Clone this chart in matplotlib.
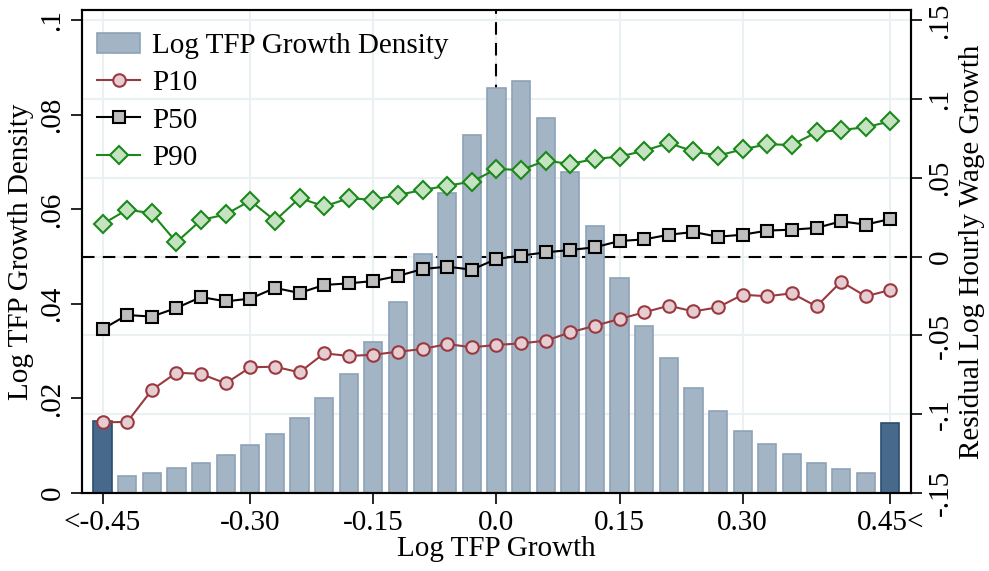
import numpy as np
import matplotlib
matplotlib.use("Agg")
import matplotlib.pyplot as plt
from matplotlib.patches import Patch
from matplotlib.transforms import blended_transform_factory

plt.rcParams['font.family'] = ['Liberation Serif', 'DejaVu Serif']
plt.rcParams['font.size'] = 21

# bin centres (outer bins are the open-ended "<-0.45" and "0.45<" bins)
bins = [-0.48, -0.45, -0.42, -0.39, -0.36, -0.33, -0.30, -0.27, -0.24, -0.21, -0.18,
        -0.15, -0.12, -0.09, -0.06, -0.03, 0.00, 0.03, 0.06, 0.09, 0.12, 0.15,
        0.18, 0.21, 0.24, 0.27, 0.30, 0.33, 0.36, 0.39, 0.42, 0.45, 0.48]

density = [0.0153, 0.0037, 0.0042, 0.0052, 0.0063, 0.0080, 0.0101, 0.0124, 0.0158,
           0.0200, 0.0252, 0.0319, 0.0405, 0.0505, 0.0634, 0.0758, 0.0857, 0.0871,
           0.0793, 0.0679, 0.0565, 0.0454, 0.0353, 0.0285, 0.0222, 0.0173, 0.0131,
           0.0103, 0.0082, 0.0063, 0.0050, 0.0042, 0.0148]

p10 = [-0.1051, -0.1049, -0.0846, -0.0736, -0.0744, -0.0804, -0.0702, -0.0698, -0.0734,
       -0.0613, -0.0630, -0.0622, -0.0603, -0.0586, -0.0554, -0.0575, -0.0560, -0.0550,
       -0.0533, -0.0480, -0.0438, -0.0395, -0.0353, -0.0311, -0.0347, -0.0321, -0.0241,
       -0.0251, -0.0232, -0.0315, -0.0158, -0.0251, -0.0211]

p50 = [-0.0459, -0.0370, -0.0380, -0.0325, -0.0256, -0.0283, -0.0266, -0.0198, -0.0230,
       -0.0179, -0.0169, -0.0154, -0.0122, -0.0078, -0.0063, -0.0082, -0.0014, 0.0007,
       0.0028, 0.0043, 0.0060, 0.0100, 0.0110, 0.0140, 0.0157, 0.0127, 0.0140,
       0.0166, 0.0172, 0.0183, 0.0225, 0.0204, 0.0240]

p90 = [0.0208, 0.0299, 0.0276, 0.0092, 0.0233, 0.0269, 0.0356, 0.0229, 0.0373,
       0.0320, 0.0371, 0.0362, 0.0392, 0.0424, 0.0451, 0.0477, 0.0557, 0.0551,
       0.0610, 0.0589, 0.0621, 0.0636, 0.0673, 0.0722, 0.0669, 0.0642, 0.0682,
       0.0714, 0.0710, 0.0790, 0.0805, 0.0822, 0.0860]

xticks = [-0.48, -0.30, -0.15, 0.0, 0.15, 0.30, 0.48]
xticklabels = ['<-0.45', '-0.30', '-0.15', '0.0', '0.15', '0.30', '0.45<']
left_ticks = [0, 0.02, 0.04, 0.06, 0.08, 0.1]
left_labels = ['0', '.02', '.04', '.06', '.08', '.1']
right_ticks = [-0.15, -0.1, -0.05, 0, 0.05, 0.1, 0.15]
right_labels = ['-.15', '-.1', '-.05', '0', '.05', '.1', '.15']

grid_col = '#eaf1f3'
bar_col, bar_edge = '#a3b4c5', '#8ea2b7'
tail_col, tail_edge = '#476a8c', '#2a4d70'

fig = plt.figure(figsize=(9.89, 5.71), dpi=100)
ax = fig.add_axes([0.083, 0.1366, 0.838, 0.846])
ax2 = ax.twinx()

ax.set_xlim(-0.505, 0.505)
ax.set_ylim(0, 0.10222)
ax2.set_ylim(-0.15, 0.1567)

# grid and reference lines sit behind the bars
ax.set_axisbelow(True)
ax.grid(axis='x', color=grid_col, linewidth=1.5)
tr = blended_transform_factory(ax.transAxes, ax2.transData)
for t in right_ticks:
    ax.plot([0, 1], [t, t], transform=tr, color=grid_col, lw=1.5, zorder=0.5)
ax.plot([0, 1], [0, 0], transform=tr, color='black', lw=1.5, ls=(0, (6, 4)), zorder=0.8)
ax.axvline(0, color='black', lw=1.5, ls=(0, (6, 4)), zorder=0.8)

colors = [bar_col] * len(bins)
edges = [bar_edge] * len(bins)
colors[0] = colors[-1] = tail_col
edges[0] = edges[-1] = tail_edge
ax.bar(bins, density, width=0.0222, color=colors, edgecolor=edges, linewidth=1.2, zorder=2)

ax2.plot(bins, p10, '-o', color='#9a3a40', lw=1.5, ms=9, mfc='#e6cdd1',
         mec='#9a3a40', mew=1.5, label='P10')
ax2.plot(bins, p50, '-s', color='black', lw=1.5, ms=8.5, mfc='#bebebe',
         mec='black', mew=1.5, label='P50')
ax2.plot(bins, p90, '-D', color='#1a881a', lw=1.5, ms=9, mfc='#c5e3c1',
         mec='#1a881a', mew=1.5, label='P90')

ax.set_xticks(xticks)
ax.set_xticklabels(xticklabels)
ax.set_yticks(left_ticks)
ax.set_yticklabels(left_labels, rotation=90, va='center')
ax2.set_yticks(right_ticks)
ax2.set_yticklabels(right_labels, rotation=90, va='center')

ax.tick_params(axis='both', direction='out', length=8, width=1.2, pad=4)
ax2.tick_params(axis='y', direction='out', length=8, width=1.2, pad=4)
for a in (ax, ax2):
    for s in a.spines.values():
        s.set_linewidth(1.5)

ax.set_xlabel('Log TFP Growth', labelpad=0)
ax.set_ylabel('Log TFP Growth Density', labelpad=4)
ax2.set_ylabel('Residual Log Hourly Wage Growth', rotation=90, labelpad=4)

bar_handle = Patch(facecolor=bar_col, edgecolor=bar_edge, linewidth=1.2,
                   label='Log TFP Growth Density')
h2, l2 = ax2.get_legend_handles_labels()
ax2.legend([bar_handle] + h2, ['Log TFP Growth Density'] + l2, loc='upper left',
           frameon=False, handlelength=1.5, handletextpad=0.4, labelspacing=0.37,
           borderaxespad=0.1, bbox_to_anchor=(0.0, 0.983))

fig.savefig('out.png', dpi=100)
